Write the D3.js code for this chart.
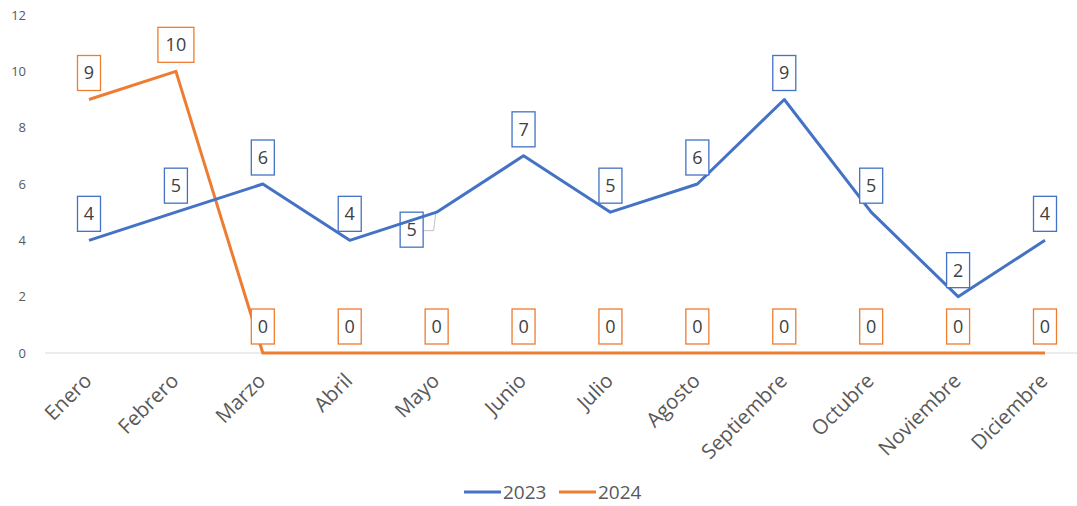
<!DOCTYPE html>
<html>
<head>
<meta charset="utf-8">
<script src="https://cdn.jsdelivr.net/npm/d3@7"></script>
<style>
    body { margin: 0; background: #fff; }
    svg { display: block; font-family: "Open Sans", "Liberation Sans", sans-serif; }
</style>
</head>
<body>
<div id="chart"></div>
<script>
// chart data
const months = ['Enero', 'Febrero', 'Marzo', 'Abril', 'Mayo', 'Junio', 'Julio',
    'Agosto', 'Septiembre', 'Octubre', 'Noviembre', 'Diciembre'];
const values2023 = [4, 5, 6, 4, 5, 7, 5, 6, 9, 5, 2, 4];
const values2024 = [9, 10, 0, 0, 0, 0, 0, 0, 0, 0, 0, 0];
const yTicks = [0, 2, 4, 6, 8, 10, 12];
const seriesNames = ['2023', '2024'];

const width = 1077, height = 506;
const colors = ['#4472C4', '#ED7D31'];

const svg = d3.select('#chart').append('svg')
    .attr('width', width)
    .attr('height', height);

const x = d3.scalePoint()
    .domain(months)
    .range([89, 1045]);

const y = d3.scaleLinear()
    .domain([0, 12])
    .range([353, 15]);

// y axis labels (no line)
svg.append('g')
    .selectAll('text')
    .data(yTicks)
    .join('text')
    .attr('x', 26)
    .attr('y', d => y(d))
    .attr('dy', '0.35em')
    .attr('text-anchor', 'end')
    .attr('fill', '#595959')
    .style('font-size', '13px')
    .text(d => d);

// baseline
svg.append('line')
    .attr('x1', 45).attr('x2', 1077)
    .attr('y1', y(0)).attr('y2', y(0))
    .attr('stroke', '#d9d9d9')
    .attr('stroke-width', 1);

// x labels rotated
svg.append('g')
    .selectAll('text')
    .data(months)
    .join('text')
    .attr('transform', d => `translate(${x(d) + 4},${y(0) + 29}) rotate(-45)`)
    .attr('text-anchor', 'end')
    .attr('fill', '#595959')
    .style('font-size', '20.5px')
    .text(d => d);

const line = d3.line()
    .x((d, i) => x(months[i]))
    .y(d => y(d));

const series = [values2023, values2024];

// draw 2024 first so 2023 stays on top where they cross
[1, 0].forEach(s => {
    svg.append('path')
        .datum(series[s])
        .attr('fill', 'none')
        .attr('stroke', colors[s])
        .attr('stroke-width', 3)
        .attr('stroke-linejoin', 'round')
        .attr('d', line);
});

// data labels
series.forEach((vals, s) => {
    const g = svg.append('g');
    vals.forEach((v, i) => {
        const label = String(v);
        const w = label.length > 1 ? 36 : 23;
        const h = 35;
        let cx = x(months[i]);
        let bottom = y(v) - 9;
        let special = false;
        // Mayo label for 2023 is shifted left/down with a leader line
        if (s === 0 && months[i] === 'Mayo') {
            cx = x(months[i]) - 25;
            bottom = y(v) + 35;
            special = true;
        }
        if (special) {
            g.append('polyline')
                .attr('points', `${cx + w / 2},${bottom - h / 2 + 1} ${x(months[i]) - 3},${bottom - h / 2 + 1} ${x(months[i]) - 1},${y(v) + 2}`)
                .attr('fill', 'none')
                .attr('stroke', '#bfbfbf')
                .attr('stroke-width', 1);
        }
        g.append('rect')
            .attr('x', cx - w / 2)
            .attr('y', bottom - h)
            .attr('width', w)
            .attr('height', h)
            .attr('fill', special ? 'none' : '#fff')
            .attr('stroke', colors[s])
            .attr('stroke-width', 1.3);
        g.append('text')
            .attr('x', cx)
            .attr('y', bottom - h / 2)
            .attr('dy', '0.36em')
            .attr('text-anchor', 'middle')
            .attr('fill', '#404040')
            .style('font-size', '18px')
            .text(label);
    });
});

// legend
const legend = svg.append('g');
const legendX = [464, 559];
seriesNames.forEach((name, s) => {
    legend.append('line')
        .attr('x1', legendX[s]).attr('x2', legendX[s] + 37)
        .attr('y1', 492).attr('y2', 492)
        .attr('stroke', colors[s])
        .attr('stroke-width', 3);
    legend.append('text')
        .attr('x', legendX[s] + 39)
        .attr('y', 492)
        .attr('dy', '0.36em')
        .attr('fill', '#595959')
        .style('font-size', '19px')
        .text(name);
});
</script>
</body>
</html>
